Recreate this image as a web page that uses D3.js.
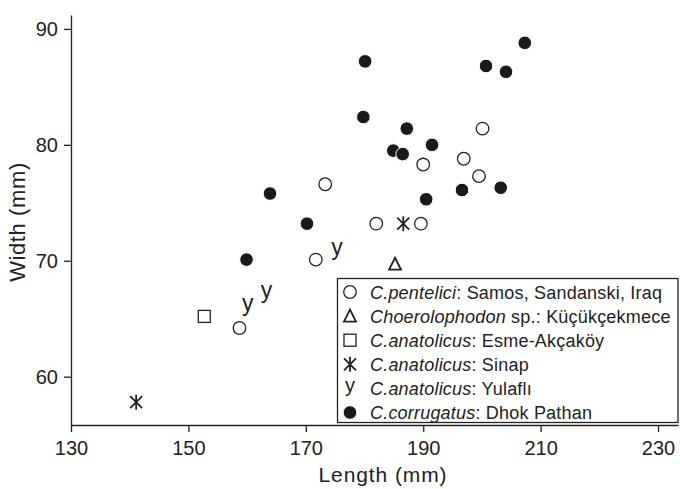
<!DOCTYPE html>
<html>
<head>
<meta charset="utf-8">
<script src="https://cdn.jsdelivr.net/npm/d3@7"></script>
<style>
  body { margin: 0; background: #fff; }
  text { font-family: "Liberation Sans", Arial, Helvetica, sans-serif; fill: #222; }
</style>
</head>
<body>
<script>
// tooth measurements, length and width in mm
var penteliciLen = [173.3, 171.7, 158.7, 200.1, 190.0, 196.9, 199.5, 182.0, 189.6];
var penteliciWid = [76.6, 70.1, 64.2, 81.4, 78.3, 78.8, 77.3, 73.2, 73.2];
var choeroLen = [185.2];
var choeroWid = [69.7];
var esmeLen = [152.7];
var esmeWid = [65.2];
var sinapLen = [186.6, 141.1];
var sinapWid = [73.2, 57.8];
var yulafliLen = [175.3, 163.3, 160.1];
var yulafliWid = [70.8, 67.1, 66.0];
var corrLen = [163.9, 170.2, 159.9, 180.1, 207.3, 200.7, 204.1, 179.8, 187.2, 184.9, 186.5, 191.5, 196.6, 203.2, 190.5];
var corrWid = [75.8, 73.2, 70.1, 87.2, 88.8, 86.8, 86.3, 82.4, 81.4, 79.5, 79.2, 80.0, 76.1, 76.3, 75.3];

var xTicks = [130, 150, 170, 190, 210, 230];
var yTicks = [60, 70, 80, 90];

var legendItalic = ["C.pentelici", "Choerolophodon", "C.anatolicus", "C.anatolicus", "C.anatolicus", "C.corrugatus"];
var legendRest = [": Samos, Sandanski, Iraq", " sp.: Küçükçekmece", ": Esme-Akçaköy", ": Sinap", ": Yulaflı", ": Dhok Pathan"];
var legendKind = ["open", "triangle", "square", "star", "y", "filled"];

var w = 680, h = 489;
var svg = d3.select('body').append('svg')
            .attr('width', w)
            .attr('height', h);

var x = d3.scaleLinear().domain([130, 233.4]).range([71, 678]);
var y = d3.scaleLinear().domain([55.83, 91.2]).range([425, 15]);

var ink = '#222';

// axes
var xAxis = svg.append('g')
    .attr('transform', 'translate(0,' + y(55.83) + ')')
    .call(d3.axisBottom(x).tickValues(xTicks).tickSize(7).tickSizeOuter(0).tickPadding(6));
var yAxis = svg.append('g')
    .attr('transform', 'translate(' + x(130) + ',0)')
    .call(d3.axisLeft(y).tickValues(yTicks).tickSize(7).tickSizeOuter(0).tickPadding(6));

[xAxis, yAxis].forEach(function(a){
  a.selectAll('path, line').attr('stroke', ink).attr('stroke-width', 1.3);
  a.selectAll('text').attr('font-size', '20px').attr('fill', ink)
   .style('font-family', '"Liberation Sans", Arial, sans-serif');
});
xAxis.selectAll('text').attr('dy', '0.85em');
yAxis.selectAll('text').attr('dy', '0.35em');

svg.append('text')
   .attr('x', 383).attr('y', 482)
   .attr('text-anchor', 'middle')
   .attr('font-size', '21px')
   .attr('letter-spacing', '0.9px')
   .text('Length (mm)');

svg.append('text')
   .attr('transform', 'translate(25,' + 222 + ') rotate(-90)')
   .attr('text-anchor', 'middle')
   .attr('font-size', '22px')
   .attr('letter-spacing', '0.6px')
   .text('Width (mm)');

// marker drawing
function drawMarker(g, kind, cx, cy, big) {
  if (kind == 'open') {
    g.append('circle').attr('cx', cx).attr('cy', cy).attr('r', 6.3)
     .attr('fill', '#fff').attr('stroke', ink).attr('stroke-width', 1.3);
  } else if (kind == 'filled') {
    g.append('circle').attr('cx', cx).attr('cy', cy).attr('r', 6.8)
     .attr('fill', '#1a1a1a').attr('stroke', '#fff').attr('stroke-width', 1);
  } else if (kind == 'square') {
    g.append('rect').attr('x', cx - 6).attr('y', cy - 6).attr('width', 12).attr('height', 12)
     .attr('fill', '#fff').attr('stroke', ink).attr('stroke-width', 1.3);
  } else if (kind == 'triangle') {
    g.append('path')
     .attr('d', 'M' + cx + ',' + (cy - 6.5) + 'L' + (cx + 6) + ',' + (cy + 5.5) + 'L' + (cx - 6) + ',' + (cy + 5.5) + 'Z')
     .attr('fill', 'none').attr('stroke', ink).attr('stroke-width', 1.8);
  } else if (kind == 'star') {
    g.append('path')
     .attr('d', 'M' + cx + ',' + (cy - 7.5) + 'V' + (cy + 7.5) +
                'M' + (cx - 6) + ',' + (cy - 6) + 'L' + (cx + 6) + ',' + (cy + 6) +
                'M' + (cx - 6) + ',' + (cy + 6) + 'L' + (cx + 6) + ',' + (cy - 6))
     .attr('fill', 'none').attr('stroke', ink).attr('stroke-width', 1.8);
  } else if (kind == 'y') {
    var fs = big ? 23 : 20;
    g.append('text').attr('x', cx).attr('y', cy + 0.16 * fs)
     .attr('text-anchor', 'middle').attr('font-size', fs + 'px')
     .text('y');
  }
}

var pts = svg.append('g');
function plotSeries(lens, wids, kind) {
  lens.forEach(function(l, i){
    drawMarker(pts, kind, x(l), y(wids[i]), true);
  });
}
plotSeries(penteliciLen, penteliciWid, 'open');
plotSeries(choeroLen, choeroWid, 'triangle');
plotSeries(esmeLen, esmeWid, 'square');
plotSeries(yulafliLen, yulafliWid, 'y');
plotSeries(corrLen, corrWid, 'filled');
plotSeries(sinapLen, sinapWid, 'star');

// legend
var lg = svg.append('g');
lg.append('rect')
  .attr('x', 337.5).attr('y', 278.5)
  .attr('width', 340.5).attr('height', 144)
  .attr('fill', '#fff').attr('stroke', ink).attr('stroke-width', 1.3);

legendKind.forEach(function(k, i){
  var cy = 292 + i * 24.1;
  drawMarker(lg, k, 350, cy, false);
  var t = lg.append('text')
            .attr('x', 370).attr('y', cy + 6.5)
            .attr('font-size', '18px')
            .attr('letter-spacing', '0.2px');
  t.append('tspan').attr('font-style', 'italic').text(legendItalic[i]);
  t.append('tspan').text(legendRest[i]);
});
</script>
</body>
</html>
